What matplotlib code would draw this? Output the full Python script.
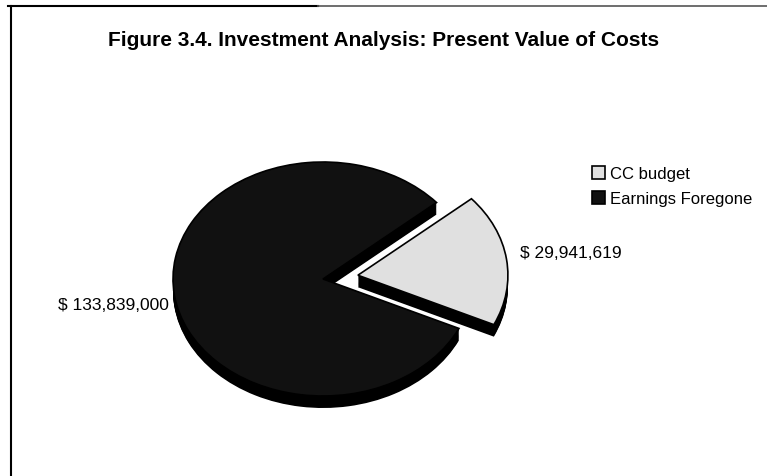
import matplotlib
matplotlib.use("Agg")
import matplotlib.pyplot as plt
from matplotlib.lines import Line2D

plt.rcParams['font.family'] = ['Liberation Sans', 'DejaVu Sans']

# data
labels = ['CC budget', 'Earnings Foregone']
values = [29941619, 133839000]
value_labels = ['$ 29,941,619', '$ 133,839,000']
explode = [0.235, 0]

W, H = 767, 477
fig = plt.figure(figsize=(W / 100, H / 100), dpi=100)
fig.patch.set_facecolor('white')

# pie axes: 1 unit = 150 px across, 117 px down (tilted look)
ax = fig.add_axes([98 / W, 21.5 / H, 450 / W, 351 / H])
depth = 12 / 117
n_layers = 14

# side walls, drawn as stacked black pies
side_sets = []
for k in range(n_layers, 0, -1):
    off = depth * k / n_layers
    wedges, _ = ax.pie(values, explode=explode, startangle=-25, counterclock=True,
                       center=(0, -off), colors=['black', 'black'],
                       wedgeprops=dict(linewidth=0))
    side_sets.append(wedges)

top, _ = ax.pie(values, explode=explode, startangle=-25, counterclock=True,
                colors=['#e0e0e0', '#111111'],
                wedgeprops=dict(linewidth=1.2, edgecolor='black'))

# draw order: dark slice first, then the exploded light slice
for wedges in side_sets:
    wedges[1].set_zorder(1)
    wedges[0].set_zorder(3)
top[1].set_zorder(2)
top[0].set_zorder(4)

ax.set_aspect('auto')
ax.set_xlim(-1.5, 1.5)
ax.set_ylim(-1.5, 1.5)
ax.axis('off')

# value labels
fig.text(520 / W, 1 - 254 / H, value_labels[0], fontsize=12.5, ha='left', va='center')
fig.text(169 / W, 1 - 306 / H, value_labels[1], fontsize=12.5, ha='right', va='center')

# title
fig.text(0.5, 1 - 41 / H, 'Figure 3.4. Investment Analysis: Present Value of Costs',
         fontsize=15, fontweight='bold', ha='center', va='center')

# legend
leg = ax.legend(top, labels, loc='upper left', bbox_to_anchor=(592 / W, 1 - 167 / H),
                bbox_transform=fig.transFigure, frameon=False, fontsize=12,
                handlelength=0.8, handleheight=0.8, handletextpad=0.3,
                labelspacing=0.6, borderpad=0, borderaxespad=0)

# frame lines of the scanned page
fig.add_artist(Line2D([8 / W, 318 / W], [1 - 7 / H, 1 - 7 / H], color='black', lw=1.5))
fig.add_artist(Line2D([318 / W, 1], [1 - 7 / H, 1 - 7 / H], color='#555555', lw=1.2))
fig.add_artist(Line2D([11 / W, 11 / W], [0, 1 - 7 / H], color='black', lw=1.5))

fig.savefig('out.png', dpi=100, facecolor='white')
